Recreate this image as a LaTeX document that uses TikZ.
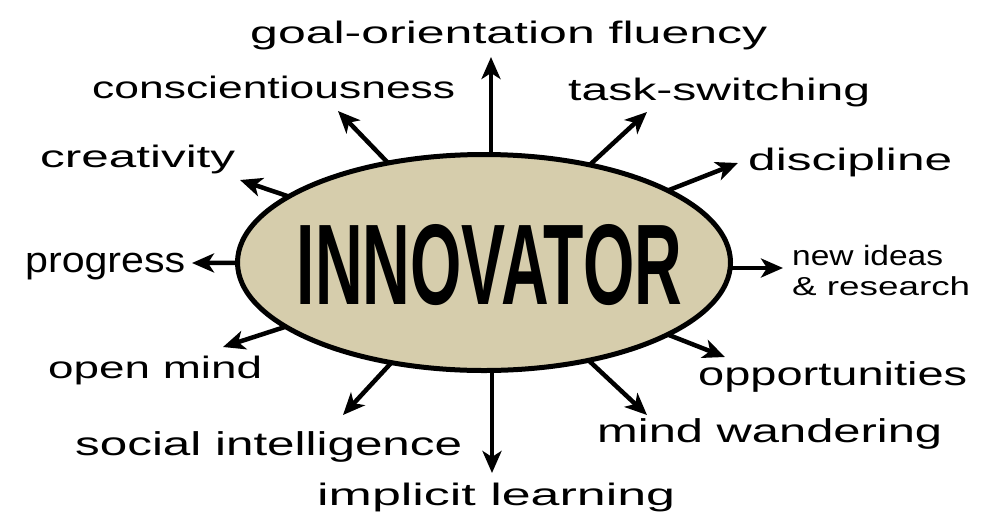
\documentclass[tikz,border=0pt]{standalone}
\usepackage{fontspec}
\setmainfont{Liberation Sans}
\usetikzlibrary{arrows.meta,shapes.geometric}
\definecolor{beige}{RGB}{214,205,172}
\newcommand{\hw}[2]{\resizebox{#1pt}{\height}{#2}}
\begin{document}
\begin{tikzpicture}[x=1pt,y=-1pt,
  lbl/.style={anchor=base west,inner sep=0pt,font=\fontsize{31}{31}\selectfont},
  arr/.style={line width=4.5pt,-{Stealth[length=22pt,width=19pt,inset=6pt]}},
  bubble/.style={ellipse,draw,line width=5pt,fill=beige,minimum width=493pt,minimum height=216pt,inner sep=0pt,outer sep=0pt}]
\useasboundingbox (0,0) rectangle (991,523);
\fill[white] (0,0) rectangle (991,523);
% tips
\coordinate (t1) at (491,57);
\coordinate (t2) at (338,111);
\coordinate (t3) at (240,180);
\coordinate (t4) at (192,263);
\coordinate (t5) at (223,347);
\coordinate (t6) at (343,415);
\coordinate (t7) at (492,473);
\coordinate (t8) at (647,415);
\coordinate (t9) at (725,357);
\coordinate (t10) at (783,268);
\coordinate (t11) at (738,163);
\coordinate (t12) at (647,112);
% centre
\node[bubble] (c) at (484,262.5) {};
\node[inner sep=0pt] (title) at (489.5,265) {\resizebox{385pt}{80pt}{\bfseries INNOVATOR}};
% arrows
\draw[arr] (t1 |- c.north) -- (t1);
\draw[arr] (c) -- (t2);
\draw[arr] (c) -- (t3);
\draw[arr] (c) -- (t4);
\draw[arr] (c) -- (t5);
\draw[arr] (c) -- (t6);
\draw[arr] (t7 |- c.south) -- (t7);
\draw[arr] (c) -- (t8);
\draw[arr] (c) -- (t9);
\draw[arr] (c.east |- t10) -- (t10);
\draw[arr] (c) -- (t11);
\draw[arr] (c) -- (t12);
% labels
\node[lbl] (l1) at (250,43) {\hw{517}{goal-orientation fluency}};
\node[lbl] (l2) at (92,98) {\hw{363}{conscientiousness}};
\node[lbl] (l3) at (40,167) {\hw{195}{creativity}};
\node[lbl,font=\fontsize{36}{36}\selectfont] (l4) at (25,272) {\hw{160}{progress}};
\node[lbl] (l5) at (48,378) {\hw{214}{open mind}};
\node[lbl,font=\fontsize{33}{33}\selectfont] (l6) at (75,455) {\hw{387}{social intelligence}};
\node[lbl] (l7) at (317,505) {\hw{358}{implicit learning}};
\node[lbl,font=\fontsize{33}{33}\selectfont] (l8) at (597,442) {\hw{345}{mind wandering}};
\node[lbl,font=\fontsize{33}{33}\selectfont] (l9) at (698,385) {\hw{269}{opportunities}};
\node[lbl,font=\fontsize{28}{28}\selectfont] (l10a) at (792,265) {\hw{151}{new ideas}};
\node[lbl,font=\fontsize{26}{26}\selectfont] (l10b) at (792,295) {\hw{178}{\& research}};
\node[lbl] (l11) at (748,170) {\hw{204}{discipline}};
\node[lbl] (l12) at (568,100) {\hw{302}{task-switching}};
\end{tikzpicture}
\end{document}
